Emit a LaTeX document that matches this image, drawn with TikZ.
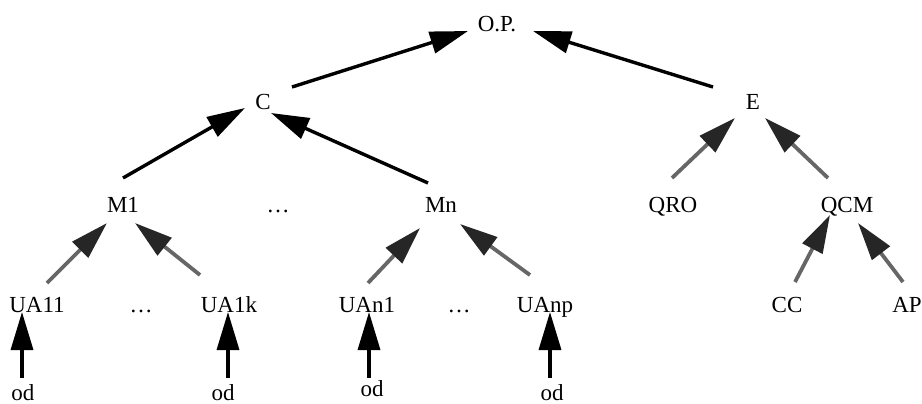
\documentclass[tikz,border=0pt]{standalone}
\usepackage{fontspec}
\setmainfont{Liberation Serif}
\usetikzlibrary{arrows.meta,calc}
\begin{document}
\begin{tikzpicture}[x=1pt,y=-1pt,
  lbl/.style={anchor=base,inner sep=0pt,font=\fontsize{23}{27}\selectfont},
  blk/.style={line width=3.4pt,draw=black,-{Triangle[length=38pt,width=22pt]}},
  gry/.style={line width=3.8pt,draw=black!60,-{Triangle[length=38pt,width=22pt,color=black!85]}}]
\useasboundingbox (0,0) rectangle (922,404);
\node[lbl] (OP) at (497,32) {O.P.};
\node[lbl] (C) at (263,110) {C};
\node[lbl] (E) at (753,110) {E};
\node[lbl] (M1) at (123,212) {M1};
\node[lbl] (d1) at (278,212) {\dots};
\node[lbl] (Mn) at (441,212) {Mn};
\node[lbl] (QRO) at (673,212) {QRO};
\node[lbl] (QCM) at (847,212) {QCM};
\node[lbl] (UA11) at (37,312) {UA11};
\node[lbl] (d2) at (141,312) {\dots};
\node[lbl] (UA1k) at (229,312) {UA1k};
\node[lbl] (UAn1) at (367,312) {UAn1};
\node[lbl] (d3) at (459,312) {\dots};
\node[lbl] (UAnp) at (545,312) {UAnp};
\node[lbl] (CC) at (787,312) {CC};
\node[lbl] (AP) at (907,312) {AP};
\node[lbl] (od1) at (23,400) {od};
\node[lbl] (od2) at (223,400) {od};
\node[lbl] (od3) at (372,396) {od};
\node[lbl] (od4) at (552,400) {od};
% black arrows
\draw[blk] ($(C.base)+(29,-23)$) -- ($(OP.base)+(-29,-1)$);
\draw[blk] ($(E.base)+(-40,-23)$) -- ($(OP.base)+(36,-1)$);
\draw[blk] ($(M1.base)+(0,-34)$) -- ($(C.base)+(-18,-2)$);
\draw[blk] ($(Mn.base)+(-13,-29)$) -- ($(C.base)+(8,3)$);
\draw[blk] ($(od1.base)+(-1,-22)$) -- ($(UA11.base)+(-15,0)$);
\draw[blk] ($(od2.base)+(5,-22)$) -- ($(UA1k.base)+(-1,0)$);
\draw[blk] ($(od3.base)+(-3,-18)$) -- ($(UAn1.base)+(2,0)$);
\draw[blk] ($(od4.base)+(-2,-22)$) -- ($(UAnp.base)+(5,0)$);
% grey arrows
\draw[gry] ($(QRO.base)+(-1,-34)$) -- ($(E.base)+(-18,8)$);
\draw[gry] ($(QCM.base)+(-19,-34)$) -- ($(E.base)+(12,8)$);
\draw[gry] ($(UA11.base)+(10,-29)$) -- ($(M1.base)+(-16,11)$);
\draw[gry] ($(UA1k.base)+(-29,-37)$) -- ($(M1.base)+(12,11)$);
\draw[gry] ($(UAn1.base)+(1,-29)$) -- ($(Mn.base)+(-21,16)$);
\draw[gry] ($(UAnp.base)+(-15,-37)$) -- ($(Mn.base)+(19,12)$);
\draw[gry] ($(CC.base)+(8,-30)$) -- ($(QCM.base)+(-17,3)$);
\draw[gry] ($(AP.base)+(-4,-30)$) -- ($(QCM.base)+(11,11)$);
\end{tikzpicture}
\end{document}
